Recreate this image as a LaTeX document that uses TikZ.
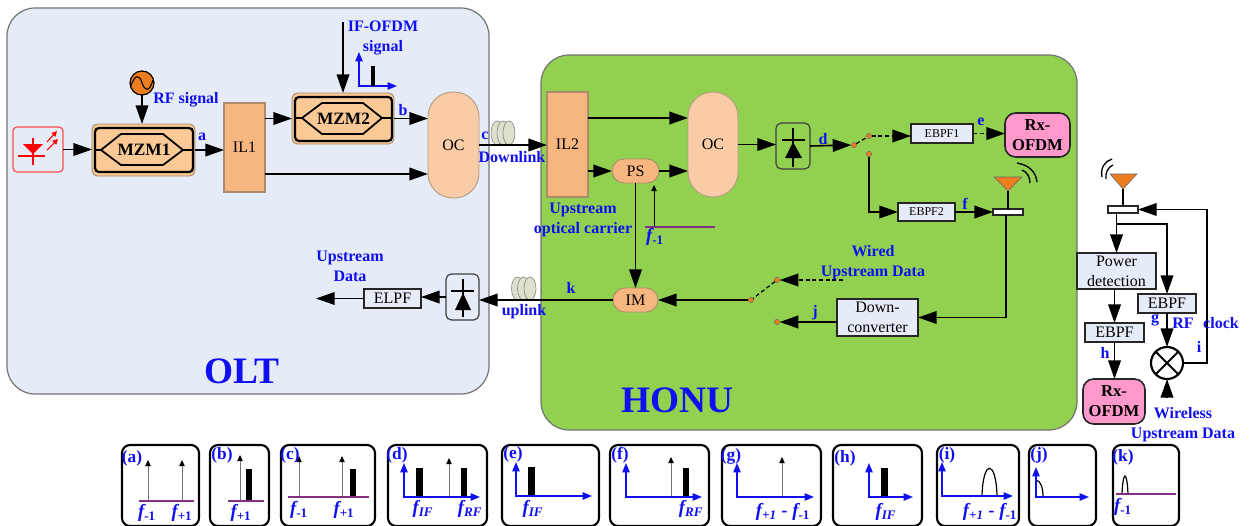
\documentclass[tikz,border=0pt]{standalone}
\usepackage{fontspec}
\usepackage{tikz}
\usetikzlibrary{arrows.meta}
\setmainfont{Liberation Serif}

\definecolor{oltblue}{HTML}{E6ECF7}
\definecolor{honugreen}{HTML}{92D050}
\definecolor{ilorange}{HTML}{F7B57F}
\definecolor{ocpeach}{HTML}{F9CBA7}
\definecolor{mzmpeach}{HTML}{FBC995}
\definecolor{sworange}{HTML}{ED7D1F}
\definecolor{rxpink}{HTML}{FF99CC}
\definecolor{lblblue}{HTML}{0F0FF0}
\definecolor{linepurple}{HTML}{80307F}
\definecolor{coilgray}{HTML}{DDE0CC}

\newcommand{\fq}[1]{{\bfseries\itshape f}\textsubscript{\bfseries #1}}

\tikzset{
    sz/.style 2 args={minimum width=#1*0.75pt,minimum height=#2*0.75pt,inner sep=0pt,outer sep=0pt},
    bigbox/.style={draw=black!55,line width=0.9pt,rounded corners=21pt},
    il/.style={draw=brown!70!black!70,line width=0.8pt,fill=ilorange,font=\fontsize{12}{15}\selectfont},
    oc/.style={draw=brown!70!black!60,line width=0.7pt,fill=ocpeach,rounded corners=18.5pt,font=\fontsize{12}{15}\selectfont},
    pill/.style={draw=brown!70!black!70,line width=0.7pt,fill=ilorange,rounded corners=9pt,font=\fontsize{12}{15}\selectfont},
    filter/.style={draw=black!85,line width=1.2pt,fill=oltblue,align=center,font=\fontsize{12}{15}\selectfont},
    rx/.style={draw=black!85,line width=1.2pt,fill=rxpink,rounded corners=8pt,align=center,font=\bfseries\fontsize{12.5}{15}\selectfont},
    mzmout/.style={draw=brown!60!black!70,line width=0.6pt,fill=mzmpeach,rounded corners=4pt},
    mzmin/.style={draw=black,line width=1.7pt,rounded corners=3pt,font=\bfseries\fontsize{13}{15}\selectfont},
    pdbox/.style={draw=black!75,line width=0.9pt,rounded corners=4pt},
    dot/.style={circle,draw=black!60,line width=0.3pt,fill=sworange,minimum size=4pt,inner sep=0pt,outer sep=0pt},
    arr/.style={line width=1.2pt,-{Triangle[length=14pt,width=9.5pt]}},
    sym/.style={line width=1.9pt},
    lbl/.style={text=lblblue,align=center,inner sep=0pt,font=\bfseries\fontsize{12}{15}\selectfont},
    freq/.style={text=lblblue,align=center,inner sep=0pt,font=\bfseries\fontsize{14}{15}\selectfont},
    biglbl/.style={text=lblblue,inner sep=0pt,font=\bfseries\fontsize{28}{30}\selectfont},
    panel/.style={draw=black,line width=1.6pt,rounded corners=6pt},
    tag/.style={text=lblblue,inner sep=0pt,font=\bfseries\fontsize{13}{13}\selectfont},
    axis/.style={draw=lblblue,line width=1pt,{Triangle[length=7pt,width=5.5pt]}-{Triangle[length=7pt,width=5.5pt]}},
    tone/.style={draw=black!55,line width=0.7pt,-{Triangle[black,length=4.5pt,width=4pt]}},
    base/.style={draw=linepurple,line width=1.1pt},
    bump/.style={draw=black,line width=0.9pt},
    coil/.style={draw=black!45,line width=0.5pt,fill=coilgray},
}

\begin{document}
\begin{tikzpicture}[x=0.75pt,y=-0.75pt]
    \useasboundingbox (0,0) rectangle (1252,525);
    \node[bigbox,sz={482}{386},fill=oltblue] (olt) at (248,201) {};
    \node[bigbox,sz={536}{375},fill=honugreen] (honu) at (809,242.5) {};

    \node[sz={50}{45},draw=red!70,line width=0.9pt,rounded corners=3pt] (laser) at (38,149.5) {};
    \fill[red] (23,144) -- (43,144) -- (33,154) -- cycle;
    \draw[red,line width=1.4pt] (18,156) -- (45,156);
    \draw[red,line width=1.4pt] (33,138) -- (33,165);
    \draw[red,line width=0.8pt,-{Triangle[length=4pt,width=4pt]}] (47,142) -- (57,131);
    \draw[red,line width=0.8pt,-{Triangle[length=4pt,width=4pt]}] (47,150) -- (58,139);

    \node[mzmout,sz={103}{52}] (mzmone) at (143.5,150) {};
    \node[mzmin,sz={98}{44}] (mzmonein) at (144,150) {MZM1};
    \draw[line width=1.3pt] (95,150) -- (101,150) -- (121,134) -- (163,134) -- (183,150) -- (163,165) -- (121,165) -- (101,150);
    \draw[line width=1.3pt] (183,150) -- (193,150);
    \node[mzmout,sz={102}{51}] (mzmtwo) at (343,118.5) {};
    \node[mzmin,sz={97}{44}] (mzmtwoin) at (343.5,119) {MZM2};
    \draw[line width=1.3pt] (295,118) -- (302,118) -- (322,103) -- (363,103) -- (382,118) -- (363,134) -- (322,134) -- (302,118);
    \draw[line width=1.3pt] (382,118) -- (392,118);

    \node[circle,draw=black,line width=0.9pt,fill=sworange,minimum size=18pt,inner sep=0pt,outer sep=0pt] (osc) at (142,83) {};
    \draw[line width=0.8pt] (131,86) .. controls (135,73) and (140,75) .. (142,83) .. controls (145,91) and (149,93) .. (153,80);

    \node[il,sz={41}{89}] (ilone) at (244.5,147.5) {IL1};
    \node[oc,sz={51}{106}] (ocone) at (453.5,145) {OC};
    \node[il,sz={41}{105}] (iltwo) at (567.5,144.5) {IL2};
    \node[pill,sz={47}{24}] (ps) at (635.5,171) {PS};
    \node[oc,sz={50}{105}] (octwo) at (713,144.5) {OC};
    \node[pdbox,sz={34}{46}] (pdone) at (793,146) {};
    \draw[sym] (782,140) -- (805,140);
    \draw[sym] (793,128) -- (793,167);
    \fill (793,142) -- (802,158) -- (785,158) -- cycle;
    \node[filter,sz={62}{19},font=\fontsize{9}{11}\selectfont] (ebpfone) at (942,133.5) {EBPF1};
    \node[rx,sz={65}{44}] (rxone) at (1037.5,135) {Rx-\\OFDM};
    \node[filter,sz={57}{18},font=\fontsize{9}{11}\selectfont] (ebpftwo) at (926.5,212) {EBPF2};
    \node[draw=black!85,line width=1pt,fill=white,sz={30}{6}] (antboxone) at (1008,212) {};
    \node[pill,sz={45}{24}] (im) at (635.5,300) {IM};
    \node[pdbox,sz={33}{46},fill=oltblue] (pdtwo) at (462.5,297) {};
    \draw[sym] (451,291) -- (474,291);
    \draw[sym] (463,279) -- (463,317);
    \fill (463,293) -- (471,310) -- (455,310) -- cycle;
    \node[filter,sz={57}{19}] (elpf) at (392.5,298.5) {ELPF};
    \node[filter,sz={81}{37}] (conv) at (877.5,317.5) {Down-\\converter};
    \node[filter,sz={79}{36}] (power) at (1116.5,271) {Power\\detection};
    \node[filter,sz={58}{19}] (ebpfthree) at (1167,303.5) {EBPF};
    \node[filter,sz={59}{19}] (ebpffour) at (1114.5,332.5) {EBPF};
    \node[rx,sz={62}{45}] (rxtwo) at (1114,401.5) {Rx-\\OFDM};
    \node[circle,draw=black,line width=1.6pt,fill=white,minimum size=24pt,inner sep=0pt,outer sep=0pt] (mix) at (1167,363) {};
    \draw[line width=1.4pt] (mix.north west) -- (mix.south east);
    \draw[line width=1.4pt] (mix.north east) -- (mix.south west);
    \node[draw=black!85,line width=1pt,fill=white,sz={30}{7}] (antboxtwo) at (1123,209.5) {};

    \node[dot] (swa) at (854,145) {};
    \node[dot] (swb) at (869,136) {};
    \node[dot] (swc) at (869,154) {};
    \node[dot] (swd) at (777,280) {};
    \node[dot] (swe) at (751,300) {};
    \node[dot] (swf) at (777,322) {};

    \draw[coil] (497,133) ellipse [x radius=6,y radius=12];
    \draw[coil] (503,133) ellipse [x radius=6,y radius=12];
    \draw[coil] (509,133) ellipse [x radius=6,y radius=12];
    \draw[coil] (517.5,288.5) ellipse [x radius=6,y radius=11.5];
    \draw[coil] (523.5,288.5) ellipse [x radius=6,y radius=11.5];
    \draw[coil] (530,288.5) ellipse [x radius=6,y radius=11.5];

    \fill[sworange,draw=black!60,line width=0.4pt] (994,177) -- (1022,177) -- (1008,191) -- cycle;
    \coordinate (antonetip) at (1008,191);
    \draw[line width=1pt] (1017,163) .. controls (1029,165) and (1036,172) .. (1037,182);
    \draw[line width=1pt] (1022,170) .. controls (1027,172) and (1030,177) .. (1030,183);
    \fill[sworange,draw=black!60,line width=0.4pt] (1110,174) -- (1137,174) -- (1123,189) -- cycle;
    \coordinate (antwotip) at (1123,189);
    \draw[line width=1pt] (1112,159) .. controls (1105,161) and (1100,168) .. (1102,177);
    \draw[line width=1pt] (1113,165) .. controls (1108,167) and (1105,173) .. (1106,179);

    \coordinate (oclow) at (428,174);
    \coordinate (octop) at (688,118);
    \coordinate (ifin) at (343,22);
    \coordinate (wiredin) at (843,280);
    \coordinate (updata) at (316,298.5);
    \coordinate (branch) at (1116.5,224);
    \coordinate (clockback) at (1207,209.5);
    \coordinate (wireless) at (1167,398);
    \coordinate (fcarrier) at (654,227);
    \coordinate (fcarriertip) at (654,185);

    \draw[arr] (laser.east) -- (laser.east -| mzmone.west);
    \draw[arr] (osc.south) -- (osc.south |- mzmone.north);
    \draw[arr] (mzmone.east) -- (mzmone.east -| ilone.west);
    \draw[arr] (ilone.east |- mzmtwo.west) -- (mzmtwo.west);
    \draw[arr] (ifin) -- (ifin |- mzmtwo.north);
    \draw[arr] (mzmtwo.east) -- (mzmtwo.east -| ocone.west);
    \draw[arr] (ilone.east |- oclow) -- (oclow);
    \draw[arr] (ocone.east) -- (ocone.east -| iltwo.west);
    \draw[arr] (iltwo.east |- octop) -- (octop);
    \draw[arr] (iltwo.east |- ps.west) -- (ps.west);
    \draw[arr] (ps.east) -- (ps.east -| octwo.west);
    \draw[arr] (octwo.east) -- (octwo.east -| pdone.west);
    \draw[arr] (pdone.east) -- (swa.west);
    \draw[line width=0.9pt,densely dashed] (swa) -- (swb);
    \draw[arr,densely dashed] (swb) -- (swb -| ebpfone.west);
    \draw[arr,densely dashed] (ebpfone.east) -- (ebpfone.east -| rxone.west);
    \draw[arr] (swc) |- (ebpftwo.west);
    \draw[arr] (ebpftwo.east) -- (antboxone.west);
    \draw[line width=1.1pt] (antboxone.north) -- (antonetip);
    \draw[arr] ([xshift=-1.5pt]antboxone.south) |- (conv.east);
    \draw[arr] (conv.west |- swf) -- (swf);
    \draw[arr,densely dashed] (wiredin) -- (swd);
    \draw[line width=0.9pt,densely dashed] (swd) -- (swe);
    \draw[arr] (swe) -- (im.east);
    \draw[arr] (ps.south) -- (im.north);
    \draw[arr] (im.west) -- (im.west -| pdtwo.east);
    \draw[arr] (pdtwo.west) -- (pdtwo.west -| elpf.east);
    \draw[arr] (elpf.west) -- (updata);
    \draw[line width=1.1pt] (antboxtwo.north) -- (antwotip);
    \draw[arr] (antboxtwo.south -| power.north) -- (power.north);
    \draw[arr] (branch) -| (ebpfthree.north);
    \draw[arr] (ebpfthree.south) -- (mix.north);
    \draw[arr] (mix.east) -| (clockback) -- (antboxtwo.east);
    \draw[arr] (ebpffour.north |- power.south) -- (ebpffour.north);
    \draw[arr] (ebpffour.south) -- (ebpffour.south |- rxtwo.north);
    \draw[arr] (wireless) -- (mix.south);

    \draw[axis] (359,52) -- (359,86) -- (397,86);
    \draw[line width=3pt] (373,66) -- (373,86);
    \draw[tone,draw=black] (fcarrier) -- (fcarriertip);
    \draw[base] (645,227) -- (715,227);

    \node[biglbl] (oltlbl) at (242,371) {OLT};
    \node[biglbl] (honulbl) at (677,400) {HONU};
    \node[lbl] (rflbl) at (186,100) {RF signal};
    \node[lbl] (iflbl) at (383,38) {IF-OFDM\\signal};
    \node[lbl] (albl) at (202,137) {a};
    \node[lbl] (blbl) at (403,110) {b};
    \node[lbl] (clbl) at (485,136) {c};
    \node[lbl] (dlbl) at (823,139) {d};
    \node[lbl] (elbl) at (981,122) {e};
    \node[lbl] (flbl) at (965,204) {f};
    \node[lbl] (glbl) at (1155,320) {g};
    \node[lbl] (hlbl) at (1105,353) {h};
    \node[lbl] (ilbl) at (1199,347) {i};
    \node[lbl] (jlbl) at (815,313) {j};
    \node[lbl] (klbl) at (571,288) {k};
    \node[lbl] (downlbl) at (512,157) {Downlink};
    \node[lbl] (uplbl) at (524,312) {uplink};
    \node[lbl] (carrierlbl) at (583,220) {Upstream\\optical carrier};
    \node[freq] (fcarrierlbl) at (655,237) {\fq{-1}};
    \node[lbl] (wiredlbl) at (873,263) {Wired\\Upstream Data};
    \node[lbl] (updatalbl) at (350,266.5) {Upstream\\Data};
    \node[lbl] (rflblb) at (1183,323) {RF};
    \node[lbl] (clocklbl) at (1221,323) {clock};
    \node[lbl] (wirelesslbl) at (1183,425) {Wireless\\Upstream Data};

    \node[panel,sz={77}{81}] (pa) at (160.5,485.5) {};
    \node[panel,sz={59}{81}] (pb) at (239.5,485.5) {};
    \node[panel,sz={94}{81}] (pc) at (328,485.5) {};
    \node[panel,sz={99}{81}] (pd) at (437.5,485.5) {};
    \node[panel,sz={97}{81}] (pe) at (550.5,485.5) {};
    \node[panel,sz={99}{81}] (pf) at (659.5,485.5) {};
    \node[panel,sz={99}{81}] (pg) at (771.5,485.5) {};
    \node[panel,sz={89}{81}] (ph) at (877.5,485.5) {};
    \node[panel,sz={82}{81}] (pi) at (978,485.5) {};
    \node[panel,sz={67}{81}] (pj) at (1062.5,485.5) {};
    \node[panel,sz={66}{81}] (pk) at (1146,485.5) {};

    \draw[tone] (148,501) -- (148,460);
    \draw[tone] (182,501) -- (182,460);
    \draw[base] (139,501) -- (194,501);
    \node[tag] (patag) at (132,458) {(a)};
    \node[freq] (paf) at (147,513) {\fq{-1}};
    \node[freq] (pag) at (182,513) {\fq{+1}};

    \draw[tone] (240,501) -- (240,455);
    \fill (246,469) rectangle (252,501);
    \draw[base] (228,501) -- (264,501);
    \node[tag] (pbtag) at (222,455) {(b)};
    \node[freq] (pbf) at (241,513) {\fq{+1}};

    \draw[tone] (299,497) -- (299,456);
    \draw[tone] (342,497) -- (342,456);
    \fill (350,469) rectangle (356,497);
    \draw[base] (288,497) -- (369,497);
    \node[tag] (pctag) at (290,455) {(c)};
    \node[freq] (pcf) at (299,510) {\fq{-1}};
    \node[freq] (pcg) at (344,510) {\fq{+1}};

    \fill (416,468) rectangle (423,497);
    \fill (461,468) rectangle (467,497);
    \draw[tone] (449,497) -- (449,458);
    \draw[axis] (404,463) -- (404,497) -- (480,497);
    \node[tag] (pdtag) at (397,455) {(d)};
    \node[freq] (pdf) at (423,509) {\fq{\itshape IF}};
    \node[freq] (pdg) at (470,509) {\fq{\itshape RF}};

    \fill (528,467) rectangle (535,496);
    \draw[axis] (516,462) -- (516,496) -- (592,496);
    \node[tag] (petag) at (513,454) {(e)};
    \node[freq] (pef) at (533,509) {\fq{\itshape IF}};

    \fill (683,468) rectangle (689,497);
    \draw[tone] (671,497) -- (671,457);
    \draw[axis] (626,463) -- (626,497) -- (702,497);
    \node[tag] (pftag) at (620,455) {(f)};
    \node[freq] (pff) at (691,509) {\fq{\itshape RF}};

    \draw[tone] (782,497) -- (782,457);
    \draw[axis] (737,463) -- (737,497) -- (814,497);
    \node[tag] (pgtag) at (731,456) {(g)};
    \node[freq] (pgf) at (783,512) {\fq{\itshape +1} - \fq{-1}};

    \fill (881,468) rectangle (888,497);
    \draw[axis] (869,463) -- (869,497) -- (913,497);
    \node[tag] (phtag) at (845,458) {(h)};
    \node[freq] (phf) at (886,512) {\fq{\itshape IF}};

    \draw[bump] (982,496) .. controls (983,459) and (996,459) .. (997,496);
    \draw[axis] (942,462) -- (942,496) -- (1013,496);
    \node[tag] (pitag) at (947,455) {(i)};
    \node[freq] (pif) at (990,512) {\fq{\itshape +1} - \fq{-1}};

    \draw[bump] (1036,480) .. controls (1041,481) and (1043,488) .. (1043,497);
    \draw[axis] (1036,467) -- (1036,497) -- (1089,497);
    \node[tag] (pjtag) at (1039,455) {(j)};

    \draw[bump] (1122,494) .. controls (1123,470) and (1127,470) .. (1128,494);
    \draw[base] (1116,494) -- (1176,494);
    \node[tag] (pktag) at (1123,457) {(k)};
    \node[freq] (pkf) at (1123,507) {\fq{-1}};
\end{tikzpicture}
\end{document}
